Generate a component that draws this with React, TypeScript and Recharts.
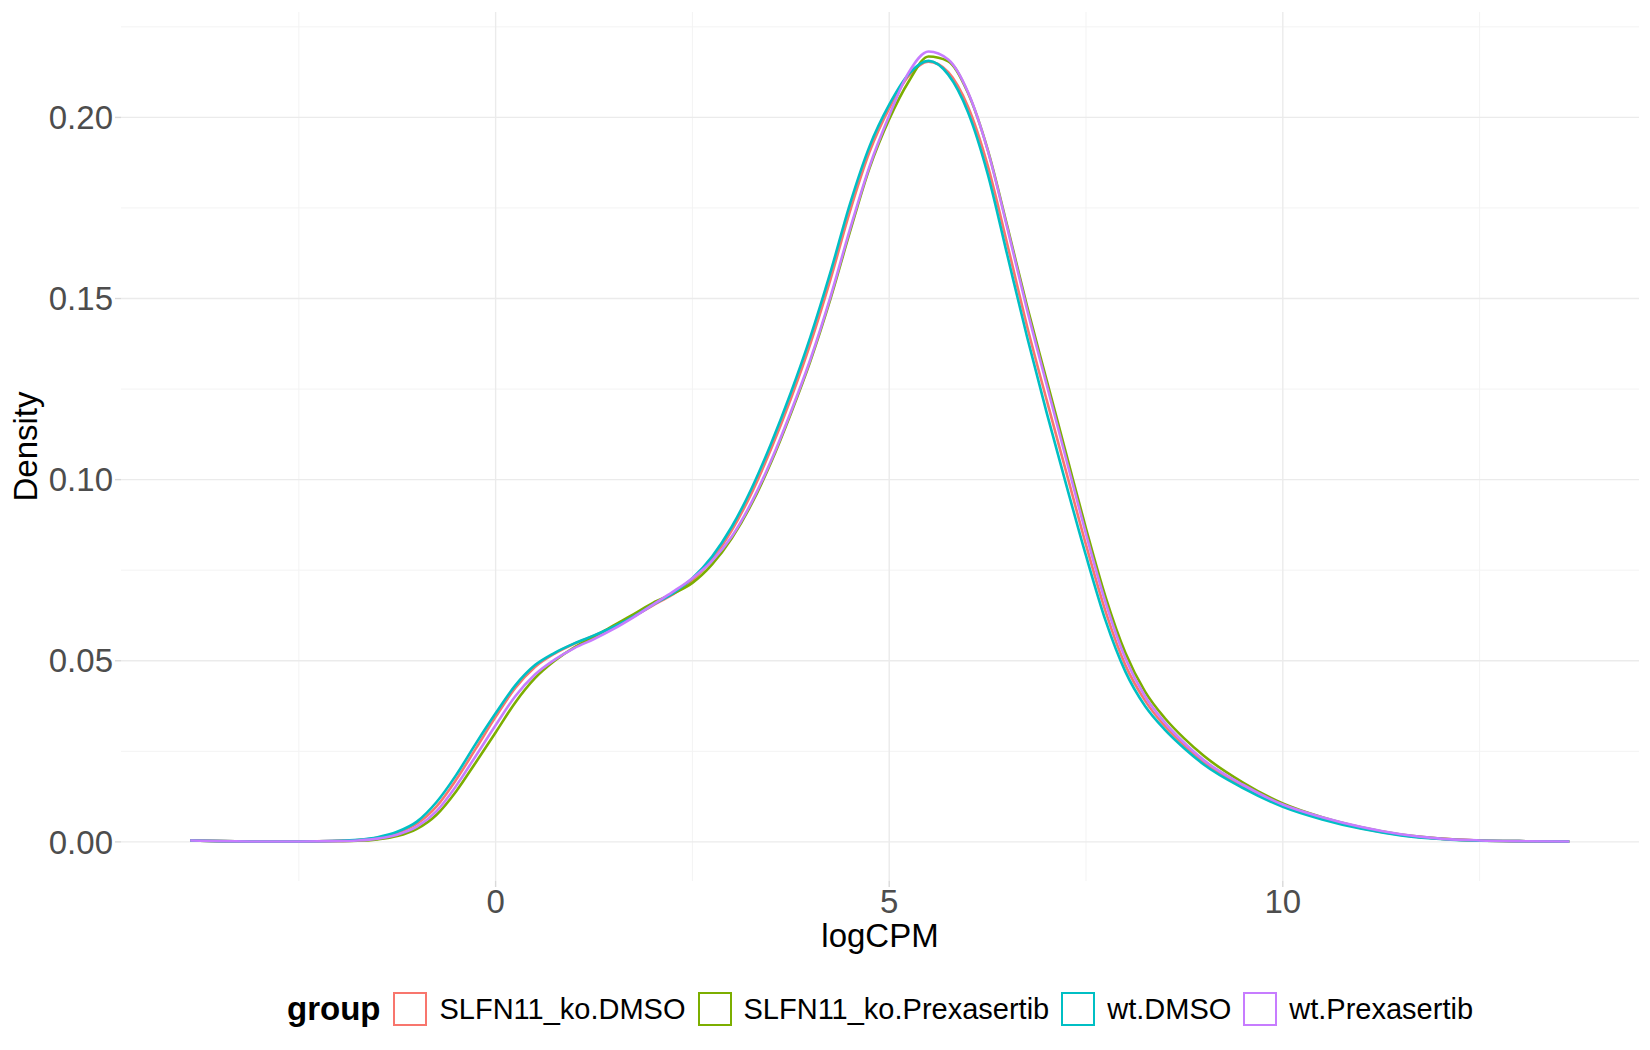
import { Label, Line, LineChart, ReferenceLine, XAxis, YAxis } from "recharts";

// logCPM grid the densities were read at
const xs = [
  -3.88, -3.5, -3, -2.5, -2, -1.75, -1.5, -1.25, -1, -0.75, -0.5, -0.25, 0, 0.25, 0.5, 0.75, 1, 1.25, 1.5, 1.75,
  2, 2.25, 2.5, 2.75, 3, 3.25, 3.5, 3.75, 4, 4.25, 4.5, 4.75, 5, 5.25, 5.5, 5.75, 6, 6.25, 6.5, 6.75, 7, 7.25,
  7.5, 7.75, 8, 8.25, 8.5, 8.75, 9, 9.5, 10, 10.5, 11, 11.5, 12, 12.5, 13, 13.64,
];

const koDmso = [
  0.0004, 0.0002, 0.0001, 0.0001, 0.0003, 0.0005, 0.0011, 0.0025, 0.005, 0.0098, 0.0172, 0.0258, 0.0345, 0.0425,
  0.0483, 0.052, 0.0547, 0.0569, 0.0594, 0.0622, 0.0653, 0.0683, 0.0722, 0.078, 0.086, 0.0962, 0.1085, 0.1223,
  0.1376, 0.155, 0.174, 0.1905, 0.2025, 0.2115, 0.2154, 0.2125, 0.203, 0.1868, 0.165, 0.1425, 0.122, 0.102, 0.082,
  0.0635, 0.0488, 0.039, 0.032, 0.0266, 0.022, 0.0153, 0.01, 0.0065, 0.0038, 0.0019, 0.0009, 0.0004, 0.0002,
  0.0001,
];

const koPrex = [
  0.0004, 0.0002, 0.0001, 0.0001, 0.0002, 0.0003, 0.0007, 0.0016, 0.0036, 0.0075, 0.014, 0.022, 0.0302, 0.0385,
  0.0452, 0.05, 0.0537, 0.0566, 0.0598, 0.0628, 0.066, 0.0685, 0.0715, 0.0766, 0.0838, 0.0932, 0.1048, 0.1182,
  0.1328, 0.1496, 0.1683, 0.186, 0.1995, 0.21, 0.2168, 0.2155, 0.2068, 0.1912, 0.17, 0.148, 0.1275, 0.107, 0.0865,
  0.0675, 0.0522, 0.0415, 0.0342, 0.0285, 0.0237, 0.0163, 0.0106, 0.0068, 0.004, 0.002, 0.0009, 0.0004, 0.0002,
  0.0001,
];

const wtDmso = [
  0.0004, 0.0002, 0.0001, 0.0001, 0.0003, 0.0006, 0.0013, 0.0028, 0.0056, 0.011, 0.0185, 0.0272, 0.0355, 0.0432,
  0.0488, 0.0522, 0.0548, 0.057, 0.0594, 0.0622, 0.0655, 0.0686, 0.0728, 0.0788, 0.087, 0.0975, 0.11, 0.124,
  0.1395, 0.157, 0.176, 0.192, 0.2035, 0.212, 0.2156, 0.2118, 0.2015, 0.1845, 0.162, 0.1395, 0.1185, 0.0985, 0.079,
  0.061, 0.047, 0.0375, 0.031, 0.0258, 0.0213, 0.0148, 0.0097, 0.0062, 0.0036, 0.0018, 0.0008, 0.0003, 0.0002,
  0.0001,
];

const wtPrex = [
  0.0004, 0.0002, 0.0001, 0.0001, 0.0002, 0.0004, 0.0009, 0.002, 0.0042, 0.0085, 0.0155, 0.0238, 0.0322, 0.0402,
  0.0462, 0.0503, 0.0535, 0.056, 0.0588, 0.062, 0.0655, 0.069, 0.0728, 0.0776, 0.0843, 0.0937, 0.1053, 0.1187,
  0.1333, 0.1502, 0.169, 0.1865, 0.2005, 0.2125, 0.2182, 0.216, 0.207, 0.191, 0.1695, 0.147, 0.1262, 0.1055, 0.085,
  0.066, 0.0507, 0.0402, 0.033, 0.0273, 0.0225, 0.0157, 0.0103, 0.0068, 0.0041, 0.0021, 0.0009, 0.0004, 0.0002,
  0.0001,
];

const groups = ["SLFN11_ko.DMSO", "SLFN11_ko.Prexasertib", "wt.DMSO", "wt.Prexasertib"];
const groupKeys = ["koDmso", "koPrex", "wtDmso", "wtPrex"];
const groupColors = ["#F8766D", "#7CAE00", "#00BFC4", "#C77CFF"];

const xTicks = [0, 5, 10];
const yTicks = [0, 0.05, 0.1, 0.15, 0.2];
const xMinor = [-2.5, 2.5, 7.5, 12.5];
const yMinor = [0.025, 0.075, 0.125, 0.175, 0.225];

const rows = xs.map((x, i) => ({
  x,
  koDmso: koDmso[i],
  koPrex: koPrex[i],
  wtDmso: wtDmso[i],
  wtPrex: wtPrex[i],
}));

const font = "'Liberation Sans', Arial, Helvetica, sans-serif";
const majorGrid = "#EBEBEB";
const minorGrid = "#F3F3F3";

export default function App() {
  return (
    <div style={{ position: "absolute", left: 0, top: 0, width: 1650, height: 1050, background: "#fff", fontFamily: font }}>
      <LineChart width={1650} height={1050} data={rows} margin={{ top: 12, right: 11, bottom: 0, left: 0 }}>
        {xMinor.map((v) => (
          <ReferenceLine key={"vm" + v} x={v} stroke={minorGrid} strokeWidth={1} />
        ))}
        {yMinor.map((v) => (
          <ReferenceLine key={"hm" + v} y={v} stroke={minorGrid} strokeWidth={1} />
        ))}
        {xTicks.map((v) => (
          <ReferenceLine key={"vM" + v} x={v} stroke={majorGrid} strokeWidth={1.4} />
        ))}
        {yTicks.map((v) => (
          <ReferenceLine key={"hM" + v} y={v} stroke={majorGrid} strokeWidth={1.4} />
        ))}
        <XAxis
          type="number"
          dataKey="x"
          domain={[-4.759, 14.525]}
          allowDataOverflow
          ticks={xTicks}
          height={169}
          axisLine={false}
          tickLine={{ stroke: "#D9D9D9", strokeWidth: 1.4 }}
          tickSize={6}
          tickMargin={3}
          tick={{ fill: "#4D4D4D", fontSize: 33, fontFamily: font }}
        >
          <Label
            content={({ viewBox }: any) => (
              <text
                x={viewBox.x + viewBox.width / 2}
                y={947}
                textAnchor="middle"
                fontSize={33}
                fontFamily={font}
                fill="#000"
              >
                logCPM
              </text>
            )}
          />
        </XAxis>
        <YAxis
          type="number"
          domain={[-0.0108, 0.2291]}
          allowDataOverflow
          ticks={yTicks}
          width={121}
          axisLine={false}
          tickLine={{ stroke: "#D9D9D9", strokeWidth: 1.4 }}
          tickSize={6}
          tickMargin={2}
          tickFormatter={(v: number) => v.toFixed(2)}
          tick={{ fill: "#4D4D4D", fontSize: 33, fontFamily: font }}
        >
          <Label
            content={({ viewBox }: any) => {
              const cy = viewBox.y + viewBox.height / 2;
              return (
                <text
                  x={37}
                  y={cy}
                  transform={`rotate(-90, 37, ${cy})`}
                  textAnchor="middle"
                  fontSize={33}
                  fontFamily={font}
                  fill="#000"
                >
                  Density
                </text>
              );
            }}
          />
        </YAxis>
        {groupKeys.map((k, i) => (
          <Line
            key={k}
            type="monotone"
            dataKey={k}
            name={groups[i]}
            stroke={groupColors[i]}
            strokeWidth={2.6}
            dot={false}
            activeDot={false}
            isAnimationActive={false}
          />
        ))}
      </LineChart>
      <div
        style={{
          position: "absolute",
          left: 121,
          width: 1518,
          top: 992,
          height: 34,
          display: "flex",
          justifyContent: "center",
          alignItems: "center",
          fontFamily: font,
        }}
      >
        <span style={{ fontWeight: "bold", fontSize: 33, marginRight: 13 }}>group</span>
        {groups.map((g, i) => (
          <div key={g} style={{ display: "flex", alignItems: "center", marginRight: i < groups.length - 1 ? 12 : 0 }}>
            <div
              style={{
                width: 34,
                height: 34,
                boxSizing: "border-box",
                border: `2px solid ${groupColors[i]}`,
                background: "#fff",
                marginRight: 12,
              }}
            />
            <span style={{ fontSize: 29 }}>{g}</span>
          </div>
        ))}
      </div>
    </div>
  );
}
